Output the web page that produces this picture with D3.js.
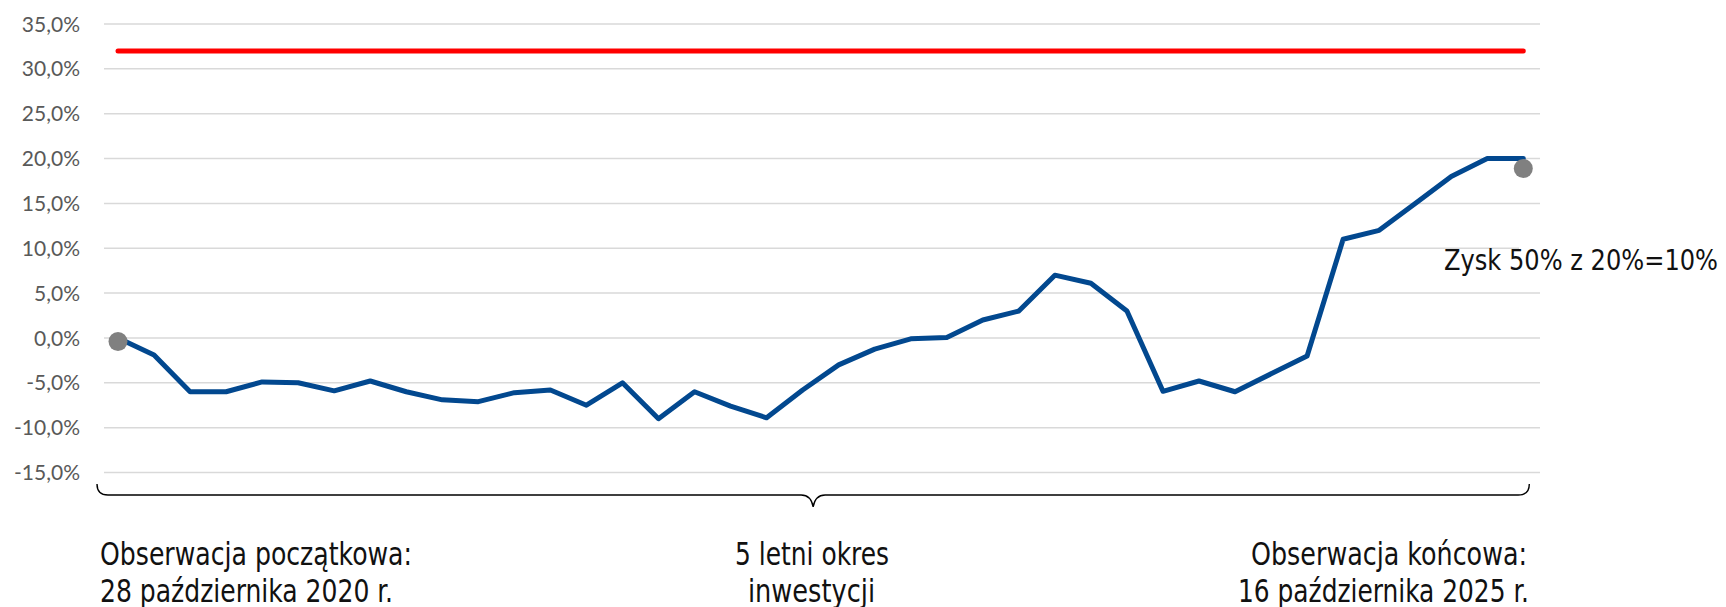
<!DOCTYPE html>
<html>
<head>
<meta charset="utf-8">
<script src="https://cdn.jsdelivr.net/npm/d3@7"></script>
<style>
  html, body { margin: 0; padding: 0; background: #fff; }
  svg { display: block; }
</style>
</head>
<body>
<svg id="chart" width="1726" height="607"></svg>
<script>
// ---------------- data ----------------
const periods = [1,2,3,4,5,6,7,8,9,10,11,12,13,14,15,16,17,18,19,20,
                 21,22,23,24,25,26,27,28,29,30,31,32,33,34,35,36,37,38,39,40];
const performance = [0, -1.9, -6.0, -6.0, -4.9, -5.0, -5.9, -4.8, -6.0, -6.9,
                     -7.1, -6.1, -5.8, -7.5, -5.0, -9.0, -6.0, -7.6, -8.9, -5.8,
                     -3.0, -1.25, -0.1, 0.05, 2.0, 3.0, 7.0, 6.1, 3.0, -5.95,
                     -4.8, -6.0, -4.0, -2.0, 11.0, 12.0, 15.0, 18.0, 20.0, 20.0];
const barrierPeriods = [1, 40];
const barrierValues = [32, 32];
const markerPeriods = [1, 40];
const markerValues = [-0.4, 18.9];
const yTicks = [-15, -10, -5, 0, 5, 10, 15, 20, 25, 30, 35];
const annotationText = "Zysk 50% z 20%=10%";
const leftLabel = ["Obserwacja początkowa:", "28 października 2020 r."];
const midLabel = ["5 letni okres", "inwestycji"];
const rightLabel = ["Obserwacja końcowa:", "16 października 2025 r."];

// ---------------- layout ----------------
const svg = d3.select("#chart");
const gridX0 = 104, gridX1 = 1540;
const annotationBoxX = 1519;   // left edge of the (white) annotation text box
const annotatedTick = 10;      // gridline hidden behind the annotation box

const x = d3.scalePoint().domain(periods).range([118, 1523.3]);
const y = d3.scaleLinear().domain([-15, 35]).range([472.5, 24]);

// gridlines
svg.append("g").selectAll("line").data(yTicks).join("line")
  .attr("x1", gridX0)
  .attr("x2", d => d === annotatedTick ? annotationBoxX : gridX1)
  .attr("y1", d => y(d)).attr("y2", d => y(d))
  .attr("stroke", "#d9d9d9").attr("stroke-width", 1.5);

// y axis labels
const fmt = d => d3.format(".1f")(d).replace(".", ",").replace("−", "-") + "%";
svg.append("g").selectAll("text").data(yTicks).join("text")
  .attr("x", 80).attr("y", d => y(d))
  .attr("dy", "0.36em")
  .attr("text-anchor", "end")
  .attr("font-family", "Lato, 'Open Sans', sans-serif")
  .attr("font-size", 21)
  .attr("fill", "#595959")
  .text(fmt);

// barrier line (red)
const barrierLine = d3.line().x((d, i) => x(barrierPeriods[i])).y(d => y(d));
svg.append("path")
  .attr("d", barrierLine(barrierValues))
  .attr("fill", "none").attr("stroke", "#ff0000")
  .attr("stroke-width", 5).attr("stroke-linecap", "round");

// performance line (blue)
const perfLine = d3.line().x((d, i) => x(periods[i])).y(d => y(d));
svg.append("path")
  .attr("d", perfLine(performance))
  .attr("fill", "none").attr("stroke", "#02488f")
  .attr("stroke-width", 5)
  .attr("stroke-linejoin", "round").attr("stroke-linecap", "round");

// markers
svg.append("g").selectAll("circle").data(markerValues).join("circle")
  .attr("cx", (d, i) => x(markerPeriods[i]))
  .attr("cy", d => y(d))
  .attr("r", 9.5)
  .attr("fill", "#808080");

// annotation
svg.append("text")
  .attr("x", 1444).attr("y", 270)
  .attr("font-family", "'Liberation Sans Narrow', 'DejaVu Sans Condensed', 'Liberation Sans', sans-serif")
  .attr("font-size", 28)
  .attr("fill", "#111")
  .attr("textLength", 274).attr("lengthAdjust", "spacingAndGlyphs")
  .text(annotationText);

// bracket
const bL = x(periods[0]) - 21, bR = x(periods[periods.length - 1]) + 6;
const bC = (bL + bR) / 2, bTop = 484, bMid = 495, bTip = 507;
svg.append("path")
  .attr("d", `M${bL},${bTop} Q${bL},${bMid} ${bL + 11},${bMid} L${bC - 12},${bMid} Q${bC - 2},${bMid} ${bC},${bTip} Q${bC + 2},${bMid} ${bC + 12},${bMid} L${bR - 11},${bMid} Q${bR},${bMid} ${bR},${bTop}`)
  .attr("fill", "none").attr("stroke", "#000").attr("stroke-width", 1.4);

// bottom labels
const labelFont = "'Liberation Sans Narrow', 'DejaVu Sans Condensed', 'Liberation Sans', sans-serif";
const baselines = [565, 602];
const labelSpecs = [
  { lines: leftLabel,  boxes: [[100, 312], [100, 293]] },
  { lines: midLabel,   boxes: [[735, 154], [748, 127]] },
  { lines: rightLabel, boxes: [[1251, 276], [1238, 291]] }
];
labelSpecs.forEach(spec => {
  spec.lines.forEach((t, i) => {
    svg.append("text")
      .attr("x", spec.boxes[i][0]).attr("y", baselines[i])
      .attr("font-family", labelFont)
      .attr("font-size", 32)
      .attr("fill", "#111")
      .attr("textLength", spec.boxes[i][1]).attr("lengthAdjust", "spacingAndGlyphs")
      .text(t);
  });
});
</script>
</body>
</html>
